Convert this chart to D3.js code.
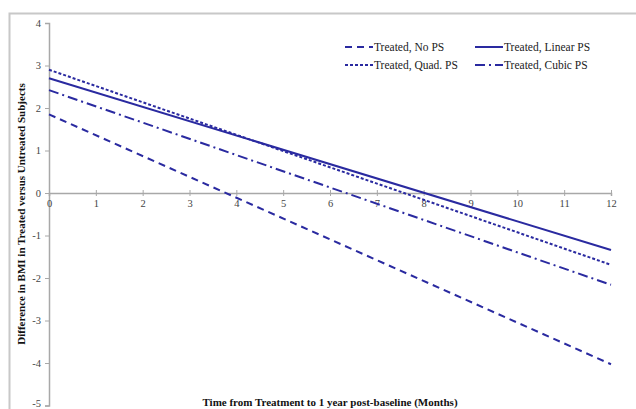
<!DOCTYPE html>
<html>
<head>
<meta charset="utf-8">
<script src="https://cdn.jsdelivr.net/npm/d3@7"></script>
<style>
  body { margin: 0; background: #fff; }
  svg { display: block; }
  text { font-family: "Liberation Serif", "Times New Roman", serif; }
</style>
</head>
<body>
<div id="chart"></div>
<script>
'use strict';

// data (months vs difference in BMI)
var months      = [0, 12];
var noPS        = [1.85, -4.03];
var linearPS    = [2.70, -1.34];
var quadPS      = [2.90, -1.69];
var cubicPS     = [2.42, -2.16];
var xTicks      = [0, 1, 2, 3, 4, 5, 6, 7, 8, 9, 10, 11, 12];
var yTicks      = [4, 3, 2, 1, 0, -1, -2, -3, -4, -5];

var series = [
  { name: "Treated, No PS",     values: noPS,     dash: "7,5" },
  { name: "Treated, Linear PS", values: linearPS, dash: null },
  { name: "Treated, Quad. PS",  values: quadPS,   dash: "3,2" },
  { name: "Treated, Cubic PS",  values: cubicPS,  dash: "10,4,2,4" }
];

var W = 636, H = 409;
var lineColor = "#2a2aa0";

var svg = d3.select("#chart").append("svg")
  .attr("width", W)
  .attr("height", H);

// outer frame (cropped on the right and bottom)
svg.append("rect")
  .attr("x", 9.5).attr("y", 13.5)
  .attr("width", W).attr("height", H)
  .style("fill", "none")
  .style("stroke", "#c8c8c8")
  .style("stroke-width", 2);

var x = d3.scaleLinear().domain([0, 12]).range([49, 611]);
var y = d3.scaleLinear().domain([-5, 4]).range([405.5, 23]);

// y axis
var yAxis = d3.axisLeft(y).tickValues(yTicks).tickSize(4).tickFormat(d3.format("d"));
var gy = svg.append("g").attr("transform", "translate(" + x(0) + ",0)").call(yAxis);
gy.select(".domain").style("stroke", "#a8a8a8").style("stroke-width", 1.5);
gy.selectAll(".tick line").style("stroke", "#a8a8a8");
gy.selectAll(".tick text")
  .attr("x", -8)
  .attr("dy", function(d) { return d === -5 ? "0.1em" : "0.32em"; })
  .style("font-size", "10.5px")
  .style("fill", "#444")
  .text(function(d) { return d; });

// x axis along y = 0
var xAxis = d3.axisBottom(x).tickValues(xTicks).tickSize(3).tickFormat(d3.format("d"));
var gx = svg.append("g").attr("transform", "translate(0," + y(0) + ")").call(xAxis);
gx.select(".domain").style("stroke", "#a8a8a8").style("stroke-width", 1.5);
gx.selectAll(".tick line").attr("y1", -3).style("stroke", "#a8a8a8");
gx.selectAll(".tick text")
  .attr("y", 7)
  .style("font-size", "10.5px")
  .style("fill", "#444");

// lines
var line = d3.line()
  .x(function(d) { return x(d[0]); })
  .y(function(d) { return y(d[1]); });

series.forEach(function(s) {
  var pts = months.map(function(m, i) { return [m, s.values[i]]; });
  svg.append("path")
    .datum(pts)
    .attr("d", line)
    .style("fill", "none")
    .style("stroke", lineColor)
    .style("stroke-width", 2)
    .style("stroke-dasharray", s.dash);
});

// legend
var legendPos = [[345, 47], [475, 47], [345, 65], [475, 65]];
series.forEach(function(s, i) {
  var p = legendPos[i];
  var g = svg.append("g").attr("transform", "translate(" + p[0] + "," + p[1] + ")");
  g.append("line")
    .attr("x1", 0).attr("x2", 28)
    .style("stroke", lineColor)
    .style("stroke-width", 2)
    .style("stroke-dasharray", s.dash);
  g.append("text")
    .attr("x", 29)
    .attr("dy", "0.35em")
    .style("font-size", "11.5px")
    .style("fill", "#222")
    .text(s.name);
});

// axis titles
svg.append("text")
  .attr("transform", "translate(25,214) rotate(-90)")
  .style("text-anchor", "middle")
  .style("font-size", "11px")
  .style("font-weight", "bold")
  .style("fill", "#111")
  .text("Difference in BMI in Treated versus Untreated Subjects");

svg.append("text")
  .attr("x", 330)
  .attr("y", 406)
  .style("text-anchor", "middle")
  .style("font-size", "11px")
  .style("font-weight", "bold")
  .style("fill", "#111")
  .text("Time from Treatment to 1 year post-baseline (Months)");
</script>
</body>
</html>
